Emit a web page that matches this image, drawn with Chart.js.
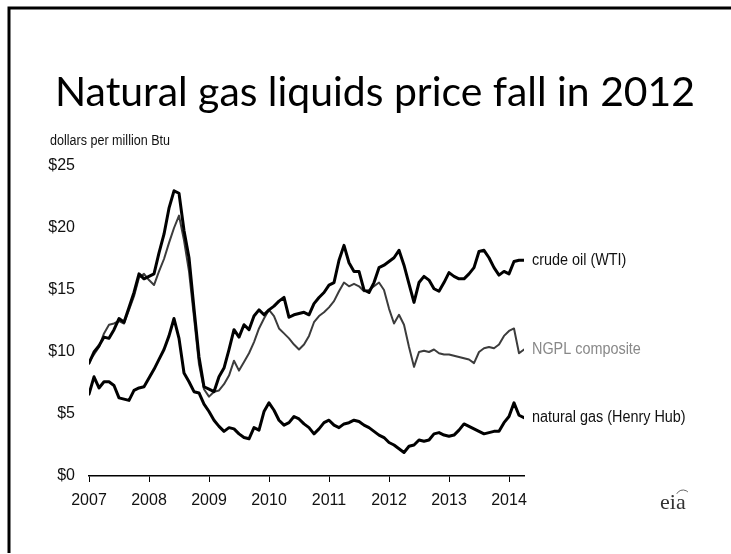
<!DOCTYPE html>
<html>
<head>
<meta charset="utf-8">
<script src="https://cdn.jsdelivr.net/npm/chart.js"></script>
<style>
  html, body { margin: 0; padding: 0; background: #fff; }
  canvas { display: block; }
</style>
</head>
<body>
<canvas id="prices" width="731" height="554"></canvas>
<script>
// monthly prices, Jan 2007 - Apr 2014, dollars per million Btu
const startYear = 2007;
const yearTicks = [2007, 2008, 2009, 2010, 2011, 2012, 2013, 2014];

const crudeOil = [
  9.1, 10.0, 10.5, 11.2, 11.1, 11.8, 12.7, 12.4, 13.6, 14.8, 16.3, 15.9,
  16.1, 16.3, 18.0, 19.5, 21.6, 23.0, 22.8, 19.8, 17.6, 13.5, 9.6, 7.2,
  7.0, 6.8, 8.0, 8.7, 10.2, 11.8, 11.2, 12.2, 11.8, 12.9, 13.4, 13.0,
  13.4, 13.7, 14.1, 14.4, 12.8, 13.0, 13.1, 13.2, 13.0, 13.9, 14.4, 14.8,
  15.4, 15.6, 17.4, 18.6, 17.2, 16.5, 16.5, 15.0, 14.8, 15.6, 16.8, 17.0,
  17.3, 17.6, 18.2, 17.0, 15.5, 14.0, 15.6, 16.1, 15.8, 15.1, 14.9, 15.6,
  16.4, 16.1, 15.9, 15.9, 16.3, 16.8, 18.1, 18.2, 17.6, 16.8, 16.2, 16.5,
  16.3, 17.3, 17.4, 17.4
];

const ngplComposite = [
  9.2, 9.8, 10.4, 11.5, 12.2, 12.3, 12.5, 12.3, 13.4, 14.5, 16.0, 16.3,
  15.8, 15.4, 16.5, 17.5, 18.8, 20.0, 21.0, 19.0, 16.5, 12.8, 9.0, 7.0,
  6.4, 6.8, 6.9, 7.4, 8.1, 9.3, 8.5, 9.2, 9.9, 10.8, 11.9, 12.7,
  13.4, 12.9, 11.9, 11.5, 11.1, 10.6, 10.2, 10.6, 11.3, 12.4, 12.9, 13.2,
  13.6, 14.1, 14.9, 15.6, 15.3, 15.5, 15.3, 14.9, 15.0, 15.3, 15.6, 15.0,
  13.5, 12.3, 13.0, 12.2, 10.4, 8.8, 10.0, 10.1, 10.0, 10.2, 9.9, 9.8,
  9.8, 9.7, 9.6, 9.5, 9.4, 9.1, 10.0, 10.3, 10.4, 10.3, 10.6, 11.3,
  11.7, 11.9, 9.9, 10.2
];

const naturalGas = [
  6.6, 8.0, 7.1, 7.6, 7.6, 7.3, 6.3, 6.2, 6.1, 6.9, 7.1, 7.2,
  7.9, 8.6, 9.4, 10.2, 11.3, 12.7, 11.1, 8.3, 7.6, 6.8, 6.7, 5.8,
  5.2, 4.5, 4.0, 3.6, 3.9, 3.8, 3.4, 3.1, 3.0, 3.9, 3.7, 5.2,
  5.9, 5.3, 4.5, 4.1, 4.3, 4.8, 4.6, 4.2, 3.9, 3.4, 3.8, 4.3,
  4.5, 4.1, 3.9, 4.2, 4.3, 4.5, 4.4, 4.1, 3.9, 3.6, 3.3, 3.1,
  2.7, 2.5, 2.2, 1.9, 2.4, 2.5, 2.9, 2.8, 2.9, 3.4, 3.5, 3.3,
  3.2, 3.3, 3.7, 4.2, 4.0, 3.8, 3.6, 3.4, 3.5, 3.6, 3.6, 4.3,
  4.8, 5.9, 4.9, 4.7
];

const seriesNames = ['crude oil (WTI)', 'NGPL composite', 'natural gas (Henry Hub)'];

const toPoints = (values) => values.map((v, i) => ({ x: startYear + i / 12, y: v }));

const labelFont = "'Liberation Sans', Arial, sans-serif";

const decorations = {
  id: 'decorations',
  beforeDraw(chart) {
    const ctx = chart.ctx;
    ctx.save();
    ctx.fillStyle = '#fff';
    ctx.fillRect(0, 0, chart.width, chart.height);
    ctx.restore();
  },
  afterDraw(chart) {
    const ctx = chart.ctx;
    ctx.save();

    // slide frame (top and left edges)
    ctx.strokeStyle = '#000';
    ctx.lineWidth = 3;
    ctx.beginPath();
    ctx.moveTo(9, 553);
    ctx.lineTo(9, 8);
    ctx.lineTo(731, 8);
    ctx.stroke();

    // title, squeezed to the slide's width
    const title = 'Natural gas liquids price fall in 2012';
    ctx.font = '40px Lato, "Open Sans", sans-serif';
    ctx.fillStyle = '#000';
    ctx.textBaseline = 'alphabetic';
    const w = ctx.measureText(title).width;
    ctx.save();
    ctx.translate(55, 106);
    ctx.scale(640 / w, 1);
    ctx.fillText(title, 0, 0);
    ctx.restore();

    // unit label, narrowed like the original
    ctx.textBaseline = 'middle';
    ctx.fillStyle = '#111';
    ctx.font = '14px ' + labelFont;
    ctx.save();
    ctx.translate(50, 141);
    ctx.scale(120 / ctx.measureText('dollars per million Btu').width, 1);
    ctx.fillText('dollars per million Btu', 0, 0);
    ctx.restore();

    // series labels at the end of each line
    const labelColors = ['#111', '#888', '#111'];
    ctx.font = '16px ' + labelFont;
    chart.data.datasets.forEach((ds, i) => {
      const pts = chart.getDatasetMeta(i).data;
      const last = pts[pts.length - 1];
      ctx.fillStyle = labelColors[i];
      ctx.save();
      ctx.translate(last.x + 8, last.y);
      ctx.scale(0.9, 1);
      ctx.fillText(ds.label, 0, 0);
      ctx.restore();
    });

    // eia mark
    ctx.font = '22px "Liberation Serif", serif';
    ctx.fillStyle = '#333';
    ctx.fillText('eia', 660, 503);
    ctx.strokeStyle = '#666';
    ctx.lineWidth = 1;
    ctx.beginPath();
    ctx.arc(683, 497, 7, -Math.PI * 0.85, -Math.PI * 0.25);
    ctx.stroke();

    ctx.restore();
  }
};

new Chart(document.getElementById('prices'), {
  type: 'line',
  data: {
    datasets: [
      {
        label: seriesNames[0],
        data: toPoints(crudeOil),
        borderColor: '#000',
        borderWidth: 3
      },
      {
        label: seriesNames[1],
        data: toPoints(ngplComposite),
        borderColor: '#3c3c3c',
        borderWidth: 2
      },
      {
        label: seriesNames[2],
        data: toPoints(naturalGas),
        borderColor: '#000',
        borderWidth: 3
      }
    ]
  },
  options: {
    responsive: false,
    animation: false,
    layout: { padding: { left: 44, right: 207, top: 166, bottom: 0 } },
    elements: {
      point: { radius: 0 },
      line: { tension: 0, borderJoinStyle: 'round', borderCapStyle: 'round' }
    },
    scales: {
      x: {
        type: 'linear',
        min: 2007,
        max: 2014.25,
        afterFit: (scale) => { scale.height = 78; },
        afterBuildTicks: (scale) => { scale.ticks = yearTicks.map(v => ({ value: v })); },
        ticks: {
          callback: (v) => String(v),
          font: { family: labelFont, size: 16 },
          color: '#111',
          padding: 9,
          maxRotation: 0
        },
        grid: { drawOnChartArea: false, drawTicks: true, tickLength: 6, color: '#000', lineWidth: 1 },
        border: { display: true, color: '#000', width: 1.5 }
      },
      y: {
        min: 0,
        max: 25,
        afterFit: (scale) => { scale.width = 45; },
        ticks: {
          stepSize: 5,
          callback: (v) => '$' + v,
          font: { family: labelFont, size: 16 },
          color: '#111',
          padding: 14
        },
        grid: { display: false, drawTicks: false },
        border: { display: false }
      }
    },
    plugins: {
      legend: { display: false },
      tooltip: { enabled: false }
    }
  },
  plugins: [decorations]
});
</script>
</body>
</html>
